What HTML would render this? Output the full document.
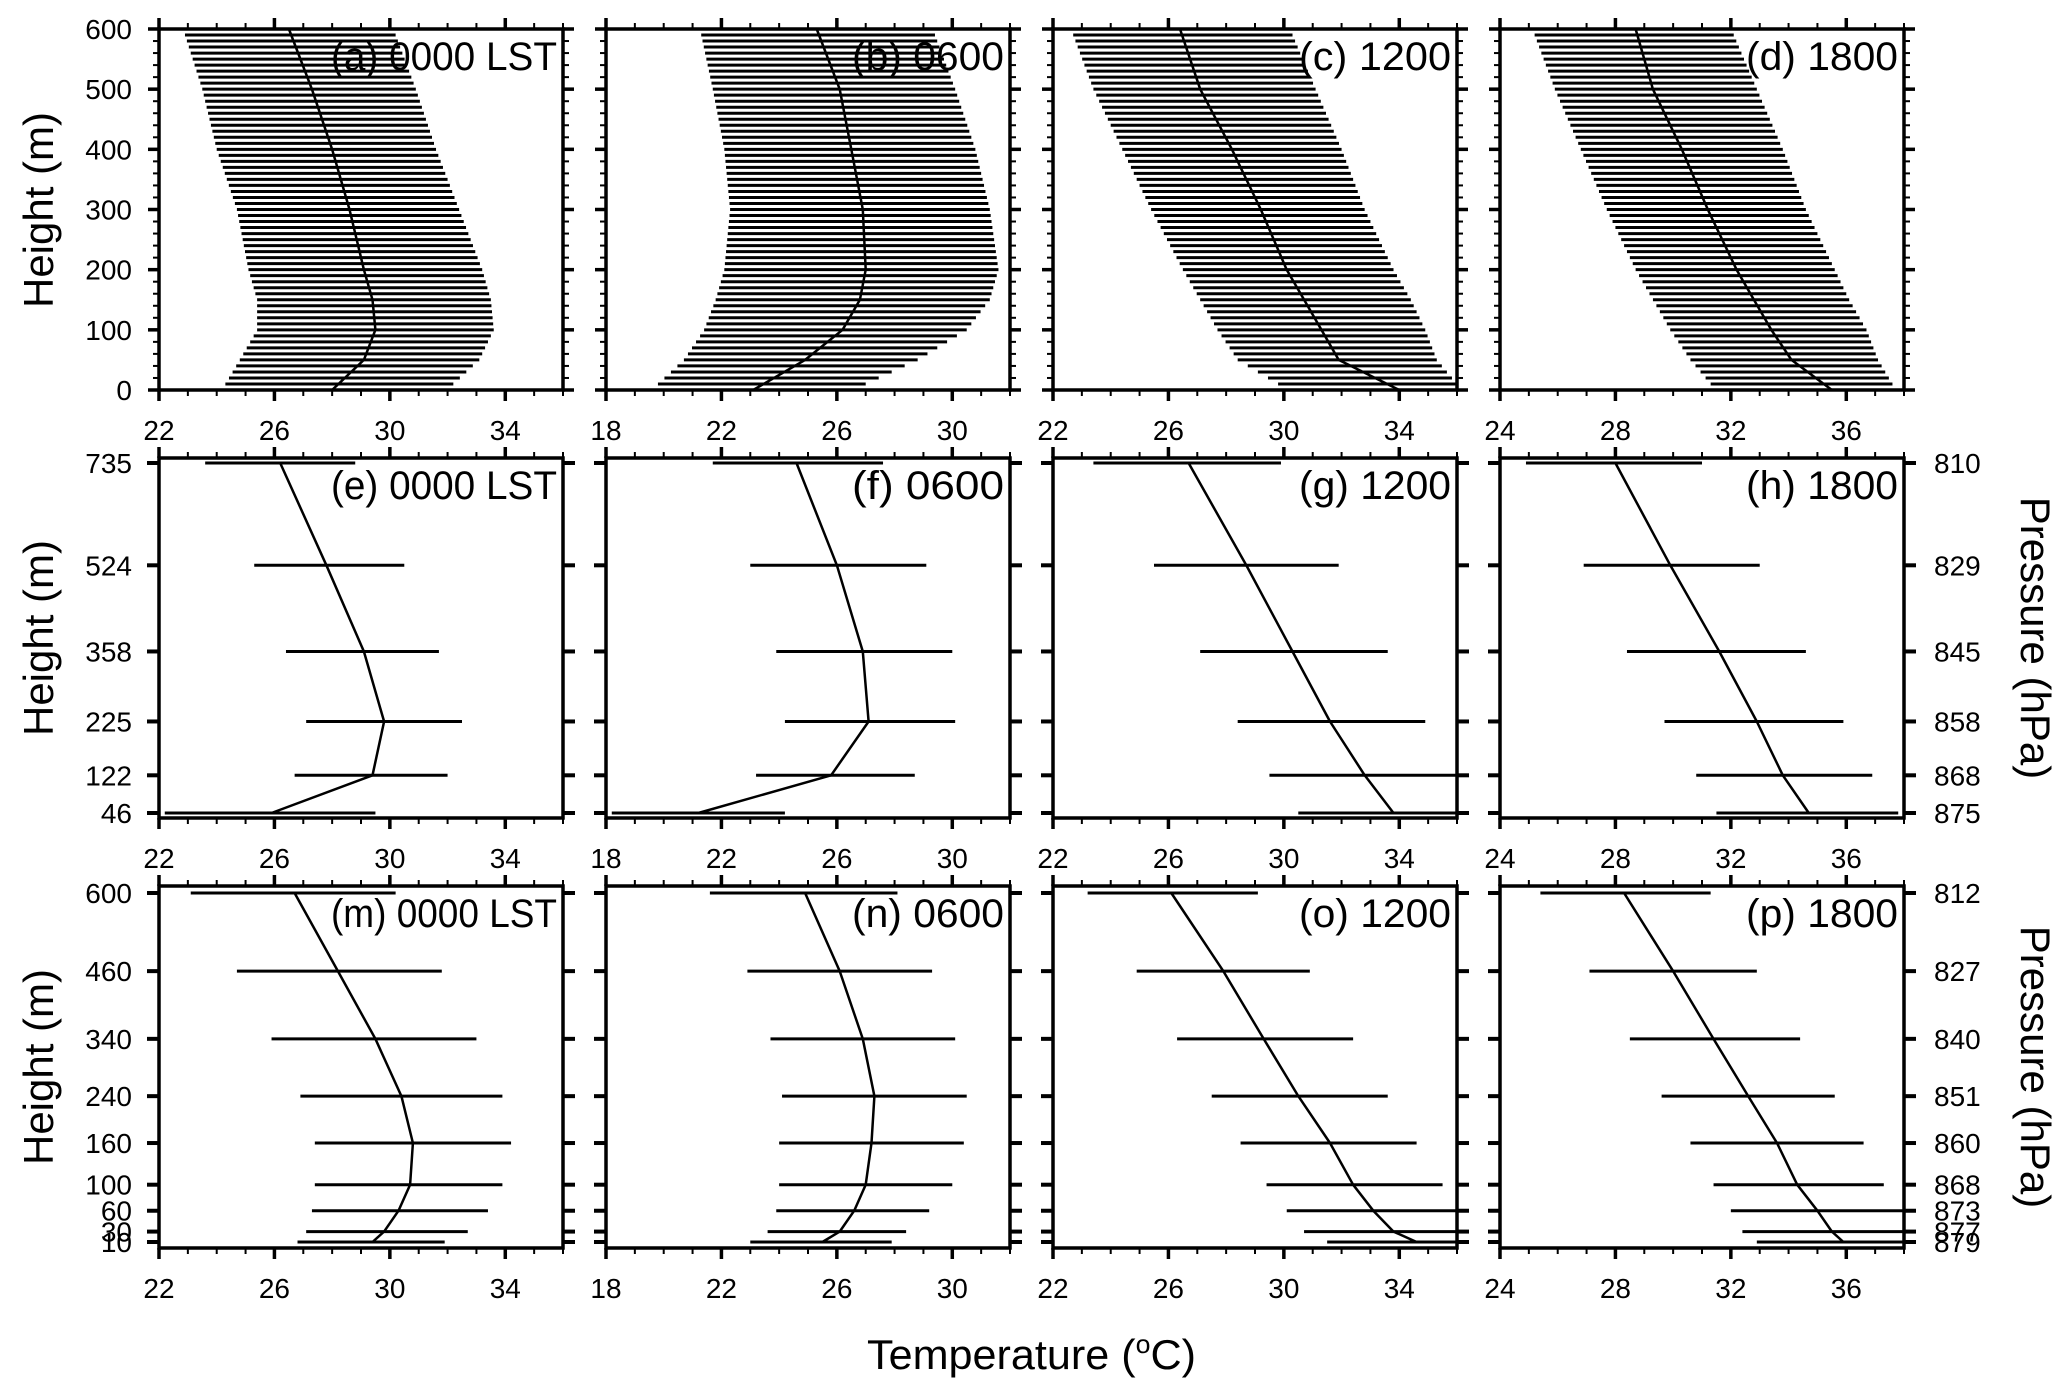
<!DOCTYPE html>
<html><head><meta charset="utf-8"><title>Temperature profiles</title>
<style>html,body{margin:0;padding:0;background:#fff}svg{display:block}text{font-family:"Liberation Sans",sans-serif;fill:#000}</style>
</head><body>
<svg id="fig" xmlns="http://www.w3.org/2000/svg" width="2067" height="1396" viewBox="0 0 2067 1396"></svg>
<script>
// ---------- Row 1 data (envelope every 50 m + mean profile) ----------
const r1Heights = [10, 50, 100, 150, 200, 300, 400, 500, 590];
const r1MeanHeights = [0, 50, 100, 150, 200, 300, 400, 500, 600];
const aLow  = [24.3, 24.8, 25.4, 25.4, 25.1, 24.7, 24.0, 23.5, 22.9];
const aHigh = [32.2, 33.1, 33.6, 33.5, 33.2, 32.4, 31.6, 30.9, 30.2];
const aMean = [28.0, 29.1, 29.5, 29.4, 29.1, 28.6, 28.0, 27.3, 26.5];
const bLow  = [19.8, 20.7, 21.4, 21.8, 22.1, 22.3, 22.1, 21.7, 21.3];
const bHigh = [27.0, 28.8, 30.5, 31.3, 31.6, 31.3, 30.8, 30.1, 29.4];
const bMean = [23.1, 24.9, 26.2, 26.8, 27.0, 26.9, 26.5, 26.1, 25.3];
const cLow  = [29.8, 28.4, 27.7, 27.1, 26.5, 25.4, 24.4, 23.4, 22.7];
const cHigh = [36.0, 35.3, 34.9, 34.4, 33.8, 32.8, 32.0, 31.1, 30.3];
const cMean = [34.0, 31.9, 31.3, 30.7, 30.1, 29.2, 28.2, 27.1, 26.4];
const dLow  = [31.3, 30.6, 29.9, 29.3, 28.7, 27.7, 26.8, 25.9, 25.2];
const dHigh = [37.6, 37.1, 36.7, 36.1, 35.6, 34.6, 33.8, 32.9, 32.1];
const dMean = [35.5, 34.1, 33.4, 32.8, 32.2, 31.2, 30.3, 29.3, 28.7];

// ---------- Row 2 data (pressure levels) ----------
const r2Pressure = [810, 829, 845, 858, 868, 875];
const r2HeightLabels = ["735", "524", "358", "225", "122", "46"];
const eLow = [23.6, 25.3, 26.4, 27.1, 26.7, 22.2];
const eHigh = [28.8, 30.5, 31.7, 32.5, 32.0, 29.5];
const eMean = [26.2, 27.8, 29.1, 29.8, 29.4, 25.9];
const fLow = [21.7, 23.0, 23.9, 24.2, 23.2, 18.2];
const fHigh = [27.6, 29.1, 30.0, 30.1, 28.7, 24.2];
const fMean = [24.6, 26.0, 26.9, 27.1, 25.8, 21.2];
const gLow = [23.4, 25.5, 27.1, 28.4, 29.5, 30.5];
const gHigh = [29.9, 31.9, 33.6, 34.9, 36.5, 36.5];
const gMean = [26.7, 28.7, 30.3, 31.6, 32.8, 33.8];
const hLow = [24.9, 26.9, 28.4, 29.7, 30.8, 31.5];
const hHigh = [31.0, 33.0, 34.6, 35.9, 36.9, 37.8];
const hMean = [28.0, 29.9, 31.6, 32.9, 33.8, 34.7];

// ---------- Row 3 data ----------
const r3Pressure = [812, 827, 840, 851, 860, 868, 873, 877, 879];
const r3HeightLabels = ["600", "460", "340", "240", "160", "100", "60", "30", "10"];
const mLow = [23.1, 24.7, 25.9, 26.9, 27.4, 27.4, 27.3, 27.1, 26.8];
const mHigh = [30.2, 31.8, 33.0, 33.9, 34.2, 33.9, 33.4, 32.7, 31.9];
const mMean = [26.7, 28.2, 29.5, 30.4, 30.8, 30.7, 30.3, 29.8, 29.4];
const nLow = [21.6, 22.9, 23.7, 24.1, 24.0, 24.0, 23.9, 23.6, 23.0];
const nHigh = [28.1, 29.3, 30.1, 30.5, 30.4, 30.0, 29.2, 28.4, 27.9];
const nMean = [24.9, 26.1, 26.9, 27.3, 27.2, 27.0, 26.6, 26.1, 25.5];
const oLow = [23.2, 24.9, 26.3, 27.5, 28.5, 29.4, 30.1, 30.7, 31.5];
const oHigh = [29.1, 30.9, 32.4, 33.6, 34.6, 35.5, 36.5, 36.5, 36.5];
const oMean = [26.1, 27.9, 29.3, 30.5, 31.6, 32.4, 33.1, 33.8, 34.6];
const pLow = [25.4, 27.1, 28.5, 29.6, 30.6, 31.4, 32.0, 32.4, 32.9];
const pHigh = [31.3, 32.9, 34.4, 35.6, 36.6, 37.3, 38.5, 38.5, 38.5];
const pMean = [28.3, 30.0, 31.4, 32.6, 33.6, 34.3, 35.0, 35.5, 35.9];

// x-axis ranges per column
const colMin = [22, 18, 22, 24];
const colTicks = [[22, 26, 30, 34], [18, 22, 26, 30], [22, 26, 30, 34], [24, 28, 32, 36]];
const r2PressLabels = ["810", "829", "845", "858", "868", "875"];
const r3PressLabels = ["812", "827", "840", "851", "860", "868", "873", "877", "879"];

const NS = "http://www.w3.org/2000/svg";
const svg = document.getElementById("fig");
const colLeft = [159, 606, 1053, 1500];
const W = 404;
const rowTop = [29, 458, 886], rowBot = [390, 818, 1248];
const xspan = 14;

function mk(tag, attrs, parent) {
  const e = document.createElementNS(NS, tag);
  for (const k in attrs) e.setAttribute(k, attrs[k]);
  (parent || svg).appendChild(e);
  return e;
}
function xs(c, v) { return colLeft[c] + (v - colMin[c]) / xspan * W; }
function clampX(c, px) { return Math.max(colLeft[c], Math.min(colLeft[c] + W, px)); }
function y1(h) { return rowBot[0] - h / 600 * (rowBot[0] - rowTop[0]); }
function y2(p) { return 463 + (p - 810) / 65 * (813 - 463); }
function y3(p) { return 893 + (p - 812) / 67 * (1242 - 893); }
function lerp(xa, ya, x) {
  for (let i = 0; i < xa.length - 1; i++) {
    if (x <= xa[i + 1]) { const t = (x - xa[i]) / (xa[i + 1] - xa[i]); return ya[i] + t * (ya[i + 1] - ya[i]); }
  }
  return ya[ya.length - 1];
}

const labels1 = ["(a) 0000 LST", "(b) 0600", "(c) 1200", "(d) 1800"];
const labels2 = ["(e) 0000 LST", "(f) 0600", "(g) 1200", "(h) 1800"];
const labels3 = ["(m) 0000 LST", "(n) 0600", "(o) 1200", "(p) 1800"];
const lows1 = [aLow, bLow, cLow, dLow], highs1 = [aHigh, bHigh, cHigh, dHigh], means1 = [aMean, bMean, cMean, dMean];
const lows2 = [eLow, fLow, gLow, hLow], highs2 = [eHigh, fHigh, gHigh, hHigh], means2 = [eMean, fMean, gMean, hMean];
const lows3 = [mLow, nLow, oLow, pLow], highs3 = [mHigh, nHigh, oHigh, pHigh], means3 = [mMean, nMean, oMean, pMean];

function panelLabel(g, c, r, txt) {
  const t = mk("text", { x: colLeft[c] + W - 6, y: rowTop[r] + 41, "font-size": 40, "text-anchor": "end", "textLength": txt.length > 8 ? 226 : 152, "lengthAdjust": "spacingAndGlyphs" }, g);
  t.textContent = txt;
  
  
}

function xAxisTicks(g, c, r) {
  const T = rowTop[r], B = rowBot[r];
  for (let v = colMin[c]; v <= colMin[c] + xspan + 0.01; v++) {
    const x = xs(c, v);
    const major = (v - colMin[c]) % 4 === 0;
    const len = major ? 11 : 6;
    mk("line", { x1: x, y1: B, x2: x, y2: B + len, stroke: "#000", "stroke-width": major ? 3.5 : 2 }, g);
    mk("line", { x1: x, y1: T, x2: x, y2: T - len, stroke: "#000", "stroke-width": major ? 3.5 : 2 }, g);
  }
  colTicks[c].forEach(v => {
    const t = mk("text", { x: xs(c, v), y: B + 50, "font-size": 28, "text-anchor": "middle" }, g);
    t.textContent = v;
    
    
  });
}

function frame(g, c, r) {
  const f = mk("rect", { x: colLeft[c], y: rowTop[r], width: W, height: rowBot[r] - rowTop[r], fill: "none", stroke: "#000", "stroke-width": 3.5 }, g);
  
  
}

// ---------- Row 1 ----------
for (let c = 0; c < 4; c++) {
  const g = mk("g", {});
  
  
  const lo = lows1[c], hi = highs1[c], me = means1[c];
  for (let h = 10; h <= 590; h += 10) {
    const a = clampX(c, xs(c, lerp(r1Heights, lo, h))), b = clampX(c, xs(c, lerp(r1Heights, hi, h)));
    const ln = mk("line", { x1: a, y1: y1(h), x2: b, y2: y1(h), stroke: "#000", "stroke-width": 3 }, g);
    
    
  }
  const pts = me.map((v, i) => xs(c, v).toFixed(1) + "," + y1(r1MeanHeights[i]).toFixed(1)).join(" ");
  const pl = mk("polyline", { points: pts, fill: "none", stroke: "#000", "stroke-width": 2.5, "stroke-linejoin": "round" }, g);
  
  
  frame(g, c, 0);
  xAxisTicks(g, c, 0);
  for (let h = 0; h <= 600; h += 20) {
    const major = h % 100 === 0, len = major ? 11 : 6, y = y1(h);
    mk("line", { x1: colLeft[c], y1: y, x2: colLeft[c] - len, y2: y, stroke: "#000", "stroke-width": major ? 3.5 : 2 }, g);
    mk("line", { x1: colLeft[c] + W, y1: y, x2: colLeft[c] + W + len, y2: y, stroke: "#000", "stroke-width": major ? 3.5 : 2 }, g);
    if (c === 0 && major) {
      const t = mk("text", { x: 132, y: y + 10, "font-size": 28, "text-anchor": "end" }, g);
      t.textContent = h;
      
      
    }
  }
  panelLabel(g, c, 0, labels1[c]);
}

// ---------- Rows 2 & 3 ----------
function barRow(r, press, hLabels, pLabels, lows, highs, means, yfn, labels) {
  for (let c = 0; c < 4; c++) {
    const g = mk("g", {});
    
    
    press.forEach((p, i) => {
      const a = clampX(c, xs(c, lows[c][i])), b = clampX(c, xs(c, highs[c][i]));
      const ln = mk("line", { x1: a, y1: yfn(p), x2: b, y2: yfn(p), stroke: "#000", "stroke-width": 3 }, g);
      
      
    });
    const pts = means[c].map((v, i) => xs(c, v).toFixed(1) + "," + yfn(press[i]).toFixed(1)).join(" ");
    const pl = mk("polyline", { points: pts, fill: "none", stroke: "#000", "stroke-width": 2.5, "stroke-linejoin": "round" }, g);
    
    
    frame(g, c, r);
    xAxisTicks(g, c, r);
    press.forEach((p, i) => {
      const y = yfn(p);
      mk("line", { x1: colLeft[c], y1: y, x2: colLeft[c] - 12, y2: y, stroke: "#000", "stroke-width": 4 }, g);
      mk("line", { x1: colLeft[c] + W, y1: y, x2: colLeft[c] + W + 12, y2: y, stroke: "#000", "stroke-width": 4 }, g);
      if (c === 0) {
        const t = mk("text", { x: 132, y: y + 10, "font-size": 28, "text-anchor": "end" }, g);
        t.textContent = hLabels[i];
        
        
      }
      if (c === 3) {
        const t = mk("text", { x: 1934, y: y + 10, "font-size": 28, "text-anchor": "start" }, g);
        t.textContent = pLabels[i];
        
        
      }
    });
    panelLabel(g, c, r, labels[c]);
  }
}
barRow(1, r2Pressure, r2HeightLabels, r2PressLabels, lows2, highs2, means2, y2, labels2);
barRow(2, r3Pressure, r3HeightLabels, r3PressLabels, lows3, highs3, means3, y3, labels3);

// ---------- Axis titles ----------
[210, 638, 1067].forEach(cy => {
  const t = mk("text", { x: 0, y: 0, "font-size": 42, "text-anchor": "middle", transform: "translate(53," + cy + ") rotate(-90)" });
  t.textContent = "Height (m)";
  
  
});
[638, 1067].forEach(cy => {
  const t = mk("text", { x: 0, y: 0, "font-size": 42, "text-anchor": "middle", transform: "translate(2021," + cy + ") rotate(90)" });
  t.textContent = "Pressure (hPa)";
  
  
});
const xt = mk("text", { x: 867, y: 1369, "font-size": 42, "textLength": 329, "lengthAdjust": "spacingAndGlyphs" });


xt.appendChild(document.createTextNode("Temperature ("));
const sup = mk("tspan", { "font-size": 26, dy: -16 }, xt);
sup.textContent = "o";
const rest = mk("tspan", { dy: 16 }, xt);
rest.textContent = "C)";
</script>
</body></html>
